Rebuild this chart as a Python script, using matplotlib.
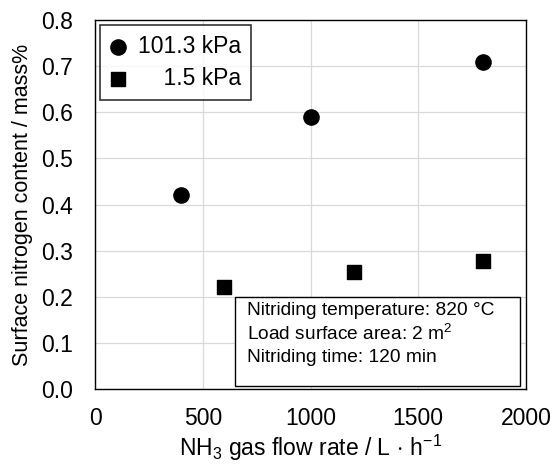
import matplotlib
matplotlib.use("Agg")
import matplotlib.pyplot as plt
from matplotlib.patches import Rectangle

plt.rcParams['font.family'] = ['Liberation Sans', 'DejaVu Sans']
plt.rcParams['mathtext.fontset'] = 'custom'
plt.rcParams['mathtext.rm'] = 'Liberation Sans'
plt.rcParams['mathtext.it'] = 'Liberation Sans:italic'

# data
flow_atm = [400, 1000, 1800]
nitrogen_atm = [0.42, 0.59, 0.71]
flow_low = [600, 1200, 1800]
nitrogen_low = [0.222, 0.255, 0.278]

x_ticks = [0, 500, 1000, 1500, 2000]
y_ticks = [0.0, 0.1, 0.2, 0.3, 0.4, 0.5, 0.6, 0.7, 0.8]
conditions = ['Nitriding temperature: 820 °C',
              'Load surface area: 2 m$^2$',
              'Nitriding time: 120 min']

fig = plt.figure(figsize=(5.53, 4.65), dpi=100)
ax = fig.add_axes([0.172, 0.163, 0.779, 0.794])

ax.scatter(flow_atm, nitrogen_atm, marker='o', s=120, color='black', label='101.3 kPa', zorder=3)
ax.scatter(flow_low, nitrogen_low, marker='s', s=110, color='black', label='    1.5 kPa', zorder=3)

ax.set_xlim(0, 2000)
ax.set_ylim(0, 0.8)
ax.set_xticks(x_ticks)
ax.set_yticks(y_ticks)
ax.set_yticklabels([f"{v:.1f}" for v in y_ticks])
ax.tick_params(length=0, labelsize=16.5)
ax.tick_params(axis='x', pad=13)
ax.tick_params(axis='y', pad=16)
ax.grid(True, color='#d9d9d9', linewidth=0.9)
ax.set_axisbelow(True)
for s in ax.spines.values():
    s.set_linewidth(1.0)

ax.set_xlabel('NH$_3$ gas flow rate / L$\\,\\cdot\\,$h$^{-1}$', fontsize=16.5, labelpad=2)
ax.set_ylabel('Surface nitrogen content / mass%', fontsize=15.5, labelpad=6)

leg = ax.legend(loc='upper left', fontsize=16.5, frameon=True, fancybox=False,
                edgecolor='black', borderpad=0.45, handletextpad=0.5,
                borderaxespad=0.2, labelspacing=0.4, handlelength=0.7)
leg.get_frame().set_linewidth(1.2)

# conditions box
ax.add_patch(Rectangle((0.325, 0.008), 0.661, 0.241, transform=ax.transAxes,
                       facecolor='white', edgecolor='black', linewidth=1.0, zorder=4))
for i, line in enumerate(conditions):
    ax.text(0.353, 0.214 - i * 0.064, line, transform=ax.transAxes, ha='left',
            va='center', fontsize=13.8, zorder=5)

fig.savefig('out.png', dpi=100)
